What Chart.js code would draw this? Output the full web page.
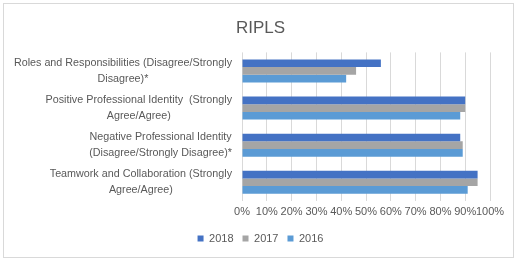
<!DOCTYPE html>
<html>
<head>
<meta charset="utf-8">
<script src="https://cdn.jsdelivr.net/npm/chart.js@4"></script>
<style>
  html, body { margin: 0; padding: 0; background: #fff; }
  #wrap { width: 521px; height: 260px; position: relative; }
  #frame { position: absolute; left: 3px; top: 3px; width: 511px; height: 255px; box-sizing: border-box; border: 1px solid #D9D9D9; }
  #wrap canvas { position: absolute; left: 0; top: 0; }
</style>
</head>
<body>
<div id="wrap"><div id="frame"></div><canvas id="chart" width="521" height="260"></canvas></div>
<script>
// valores (percentual)
const categories = [
    ['Roles and Responsibilities (Disagree/Strongly', 'Disagree)*'],
    ['Positive Professional Identity  (Strongly', 'Agree/Agree)'],
    ['Negative Professional Identity', '(Disagree/Strongly Disagree)*'],
    ['Teamwork and Collaboration (Strongly', 'Agree/Agree)']
];
const years = ['2018', '2017', '2016'];
const values2018 = [56, 90, 88, 95];
const values2017 = [46, 90, 89, 95];
const values2016 = [42, 88, 89, 91];
const xTickLabels = ['0%', '10%', '20%', '30%', '40%', '50%', '60%', '70%', '80%', '90%', '100%'];
const colors = ['#4472C4', '#A5A5A5', '#5B9BD5'];

const FONT = '"Liberation Sans", Arial, sans-serif';
const TEXT = '#595959';

// rótulos das categorias: bloco alinhado à direita, linhas centralizadas
const categoryLabels = {
    id: 'categoryLabels',
    afterDraw(chart) {
        const ctx = chart.ctx;
        const y = chart.scales.y;
        const right = chart.chartArea.left - 10;
        ctx.save();
        ctx.font = '10.75px ' + FONT;
        ctx.fillStyle = TEXT;
        ctx.textAlign = 'center';
        ctx.textBaseline = 'middle';
        categories.forEach((lines, i) => {
            const maxW = Math.max(...lines.map(l => ctx.measureText(l).width));
            const cx = right - maxW / 2;
            const cy = y.getPixelForValue(i);
            const lh = 16;
            lines.forEach((l, j) => {
                ctx.fillText(l, cx, cy + (j - (lines.length - 1) / 2) * lh);
            });
        });
        ctx.restore();
    }
};

const ctx = document.getElementById('chart').getContext('2d');
new Chart(ctx, {
    type: 'bar',
    data: {
        labels: categories.map(c => c.join(' ')),
        datasets: [
            { label: years[0], data: values2018, backgroundColor: colors[0] },
            { label: years[1], data: values2017, backgroundColor: colors[1] },
            { label: years[2], data: values2016, backgroundColor: colors[2] }
        ]
    },
    options: {
        indexAxis: 'y',
        responsive: false,
        animation: false,
        datasets: { bar: { categoryPercentage: 0.62, barPercentage: 1.0 } },
        layout: { padding: { left: 31, right: 31, top: 9, bottom: 6 } },
        plugins: {
            title: {
                display: true, text: 'RIPLS', color: TEXT,
                font: { family: FONT, size: 17, weight: 'normal' },
                padding: { top: 9, bottom: 14 }
            },
            legend: {
                position: 'bottom',
                labels: {
                    color: TEXT, font: { family: FONT, size: 11 },
                    boxWidth: 6, boxHeight: 6, padding: 9
                }
            },
            tooltip: { enabled: false }
        },
        scales: {
            x: {
                min: 0, max: 100,
                ticks: {
                    stepSize: 10, autoSkip: false, maxRotation: 0,
                    color: TEXT, font: { family: FONT, size: 11 }, padding: 5,
                    callback: (v, i) => xTickLabels[i]
                },
                grid: { color: '#D9D9D9', drawTicks: false },
                border: { display: false }
            },
            y: {
                ticks: { display: false },
                grid: { display: false },
                border: { display: false },
                afterFit: (scale) => { scale.width = 211; }
            }
        }
    },
    plugins: [categoryLabels]
});
</script>
</body>
</html>
